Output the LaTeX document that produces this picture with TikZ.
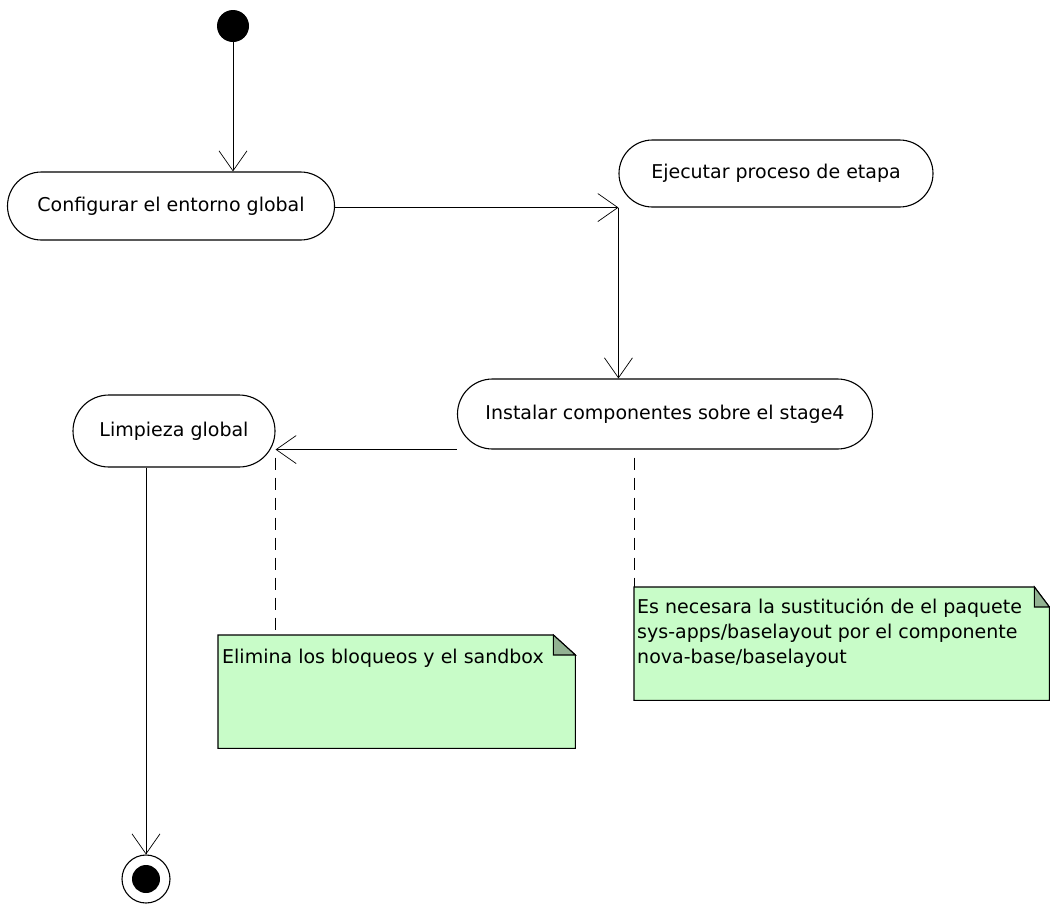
\documentclass[tikz,border=0pt]{standalone}
\usepackage{fontspec}
\setmainfont{DejaVu Sans}
\usetikzlibrary{shapes.misc,arrows.meta,calc}
\definecolor{notegreen}{RGB}{200,252,200}
\definecolor{foldgreen}{RGB}{146,178,146}
\begin{document}
\begin{tikzpicture}[x=1pt,y=-1pt,
  action/.style={rounded rectangle, draw, line width=1.1pt, inner sep=0pt, font=\fontsize{19}{22}\selectfont},
  flow/.style={line width=0.9pt, -{Straight Barb[length=20pt,width=28pt,line width=0.7pt]}},
  anchorline/.style={line width=0.9pt, dash pattern=on 12pt off 8pt},
  notebox/.style={inner sep=0pt, draw=none, anchor=north west},
  notebody/.style={fill=notegreen, draw=black, line width=1.1pt},
  notefold/.style={fill=foldgreen, draw=black, line width=1.1pt},
  notetext/.style={font=\fontsize{19}{25}\selectfont, align=left, inner sep=0pt}]
\useasboundingbox (0,0) rectangle (1050,906);

% nodes
\node[circle, fill=black, minimum size=32pt, inner sep=0pt] (start) at (233,26) {};
\node[action, minimum width=327pt, minimum height=68pt] (conf) at (171,206) {Configurar el entorno global};
\node[action, minimum width=314pt, minimum height=67pt] (ejec) at (776,173.5) {Ejecutar proceso de etapa};
\node[action, minimum width=415pt, minimum height=70pt] (inst) at (665,414) {Instalar componentes sobre el stage4};
\node[action, minimum width=202pt, minimum height=72pt] (limp) at (174,431) {Limpieza global};
\node[circle, draw, line width=1.1pt, minimum size=48pt, inner sep=0pt] (end) at (146,879) {};
\node[circle, fill=black, minimum size=28pt, inner sep=0pt] (endin) at (end.center) {};

% notes
\node[notebox, minimum width=357pt, minimum height=113pt] (n1) at (218,635) {};
\draw[notebody] (n1.north west) -- ($(n1.north east)+(-22,0)$) -- ($(n1.north east)+(0,20)$) -- (n1.south east) -- (n1.south west) -- cycle;
\draw[notefold] ($(n1.north east)+(-22,0)$) -- ($(n1.north east)+(-22,20)$) -- ($(n1.north east)+(0,20)$) -- cycle;
\node[notetext, anchor=base west] (t1) at (222,663) {Elimina los bloqueos y el sandbox};

\node[notebox, minimum width=415pt, minimum height=113pt] (n2) at (634,587) {};
\draw[notebody] (n2.north west) -- ($(n2.north east)+(-15,0)$) -- ($(n2.north east)+(0,20)$) -- (n2.south east) -- (n2.south west) -- cycle;
\draw[notefold] ($(n2.north east)+(-15,0)$) -- ($(n2.north east)+(-15,20)$) -- ($(n2.north east)+(0,20)$) -- cycle;
\node[notetext, anchor=north west] (t2) at (637,598) {Es necesara la sustitución de el paquete\\sys-apps/baselayout por el componente\\nova-base/baselayout};

% connectors
\coordinate (ejecsw) at (ejec.west |- ejec.south);
\coordinate (instsw) at (inst.west |- inst.south);
\draw[flow] (start.south) -- (start |- conf.north);
\draw[flow] (conf.east |- ejecsw) -- (ejecsw);
\draw[flow] (ejecsw) -- (ejecsw |- inst.north);
\draw[flow] (instsw) -- (instsw -| limp.east);
\draw[flow] (end |- limp.south) -- (end.north);
\draw[anchorline] ($(limp.east |- inst.south)+(0,8)$) -- (limp.east |- n1.north);
\draw[anchorline] ($(n2.north west |- inst.south)+(0,8)$) -- (n2.north west);
\end{tikzpicture}
\end{document}
